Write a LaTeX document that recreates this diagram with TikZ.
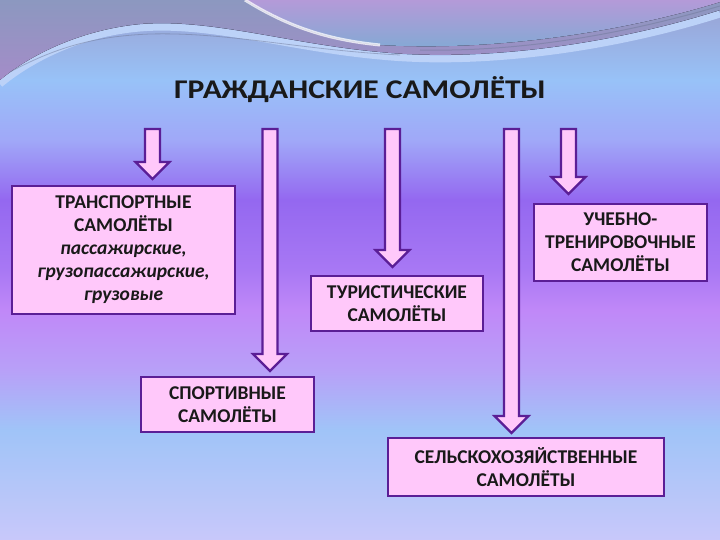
\documentclass[tikz,border=0pt]{standalone}
\usepackage{fontspec}
\setmainfont{Carlito}
\newfontfamily\titlefont[FakeStretch=1.17]{Carlito}
\definecolor{bgA}{HTML}{9AA0D0}
\definecolor{bgB}{HTML}{98C2F8}
\definecolor{bgC}{HTML}{A0A8F8}
\definecolor{bgD}{HTML}{9468F0}
\definecolor{bgE}{HTML}{A878F4}
\definecolor{bgF}{HTML}{C088F8}
\definecolor{bgG}{HTML}{B8A0F8}
\definecolor{bgH}{HTML}{A0C4F8}
\definecolor{bgI}{HTML}{C8C8FA}
\definecolor{pinkfill}{HTML}{FFC8FA}
\definecolor{darkline}{HTML}{5B1E96}
\definecolor{slate}{HTML}{8C98C0}
\definecolor{slatep}{HTML}{A48CC8}
\definecolor{lilac}{HTML}{B49AD8}
\definecolor{teal}{HTML}{80AAD4}
\definecolor{lightband}{HTML}{BCD2F8}
\newcommand\blockarrow[4]{% name, x, top y, tip y
  \coordinate (#1s) at (#2,#3);
  \coordinate (#1t) at (#2,#4);
  \draw[arrowbody] (#2-7.5,#3) -- (#2+7.5,#3) -- (#2+7.5,#4-17) -- (#2+17,#4-17)
     -- (#2,#4) -- (#2-17,#4-17) -- (#2-7.5,#4-17) -- cycle;}
\newcommand\itl{\bfseries\itshape}
\begin{document}
\begin{tikzpicture}[x=1pt,y=-1pt,
  box/.style={draw=darkline, line width=2.4pt, fill=pinkfill, align=center,
     inner sep=0pt, font=\bfseries\fontsize{19.5}{23}\selectfont, text=black!90},
  arrowbody/.style={draw=darkline, line width=2.2pt, fill=pinkfill, line join=miter},
  titlestyle/.style={font=\titlefont\bfseries\fontsize{27}{32}\selectfont, text=black!90}]
\useasboundingbox (0,0) rectangle (720,540);
% background bands
\fill[top color=bgA, bottom color=bgB] (0,0) rectangle (720,80);
\fill[top color=bgB, bottom color=bgC] (0,80) rectangle (720,140);
\fill[top color=bgC, bottom color=bgD] (0,140) rectangle (720,200);
\fill[top color=bgD, bottom color=bgE] (0,200) rectangle (720,270);
\fill[top color=bgE, bottom color=bgF] (0,270) rectangle (720,310);
\fill[top color=bgF, bottom color=bgG] (0,310) rectangle (720,370);
\fill[top color=bgG, bottom color=bgH] (0,370) rectangle (720,430);
\fill[top color=bgH, bottom color=bgI] (0,430) rectangle (720,540);
% top wave decoration
\draw[lightband, line width=7pt] (0,84) .. controls (30,59) and (80,33) .. (140,28)
   .. controls (210,22) and (290,48) .. (380,56) .. controls (480,66) and (610,49) .. (720,14);
\fill[top color=slate, bottom color=slatep] (0,0) -- (720,0) -- (720,10)
   .. controls (610,45) and (480,62) .. (380,52) .. controls (290,44) and (210,18) .. (140,24)
   .. controls (80,30) and (30,55) .. (0,80) -- cycle;
\fill[top color=lilac, bottom color=teal] (245,0) .. controls (290,28) and (330,40) .. (380,45)
   .. controls (500,52) and (630,30) .. (720,2) -- (720,0) -- cycle;
\draw[white, opacity=0.75, line width=3pt] (245,0) .. controls (290,28) and (330,40) .. (380,45);
\draw[slate!80!black, opacity=0.5, line width=0.8pt] (10,72) .. controls (60,45) and (100,36) .. (150,34)
   .. controls (230,32) and (300,50) .. (400,55);
\draw[slate!80!black, opacity=0.5, line width=1pt] (420,50) .. controls (520,52) and (620,35) .. (720,6);
% title
\node[titlestyle] (title) at (360,90) {ГРАЖДАНСКИЕ САМОЛЁТЫ};
% boxes
\node[box, minimum width=223, minimum height=128] (trans) at (123.5,250)
  {ТРАНСПОРТНЫЕ\\САМОЛЁТЫ\\\itl пассажирские,\\ \itl грузопассажирские,\\ \itl грузовые};
\node[box, minimum width=173, minimum height=55] (sport) at (227.5,404.5) {СПОРТИВНЫЕ\\САМОЛЁТЫ};
\node[box, minimum width=172, minimum height=55] (tour) at (397,303.5) {ТУРИСТИЧЕСКИЕ\\САМОЛЁТЫ};
\node[box, minimum width=276, minimum height=58] (agri) at (526,467) {СЕЛЬСКОХОЗЯЙСТВЕННЫЕ\\САМОЛЁТЫ};
\node[box, minimum width=173, minimum height=77] (train) at (620.5,242.5) {УЧЕБНО-\\ТРЕНИРОВОЧНЫЕ\\САМОЛЁТЫ};
% block arrows
\blockarrow{a1}{152.5}{129}{179}
\blockarrow{a2}{270}{129}{371}
\blockarrow{a3}{392.5}{129}{267}
\blockarrow{a4}{511.5}{129}{433}
\blockarrow{a5}{568.5}{129}{194}
\end{tikzpicture}
\end{document}
